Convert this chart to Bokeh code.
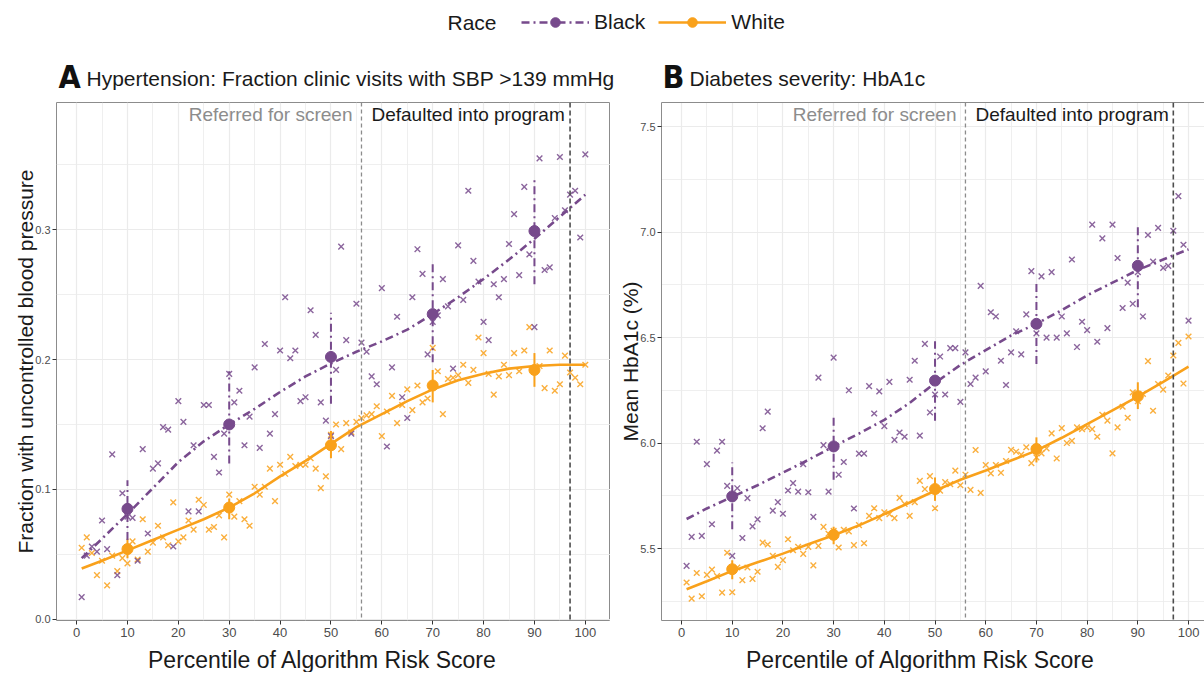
from bokeh.plotting import figure
from bokeh.models import (Range1d, FixedTicker, PrintfTickFormatter, Span, Label,
                          Legend, LegendItem, LinearAxis)
from bokeh.layouts import column, row
from bokeh.embed import file_html
from bokeh.resources import INLINE

FONT = "Liberation Sans"
NARROW = "DejaVu Sans Condensed"
PURPLE = "#774a8c"
ORANGE = "#f9a11b"
DASHDOT = "8 4 2 4"

# ---------------- data ----------------
pct = list(range(1, 101))

a_black = [0.017, 0.049, 0.056, 0.052, 0.076, 0.054, 0.127, 0.034, 0.097, 0.079,
           0.078, 0.045, 0.131, 0.066, 0.116, 0.120, 0.148, 0.146, 0.056, 0.168,
           0.152, 0.083, 0.134, 0.083, 0.165, 0.165, 0.125, 0.113, 0.143, 0.189,
           0.167, 0.176, 0.134, 0.156, 0.194, 0.132, 0.212, 0.143, 0.158, 0.207,
           0.248, 0.201, 0.207, 0.168, 0.171, 0.238, 0.219, 0.167, 0.153, 0.141,
           0.192, 0.287, 0.215, 0.143, 0.243, 0.213, 0.206, 0.187, 0.181, 0.255,
           0.133, 0.194, 0.233, 0.171, 0.155, 0.248, 0.285, 0.266, 0.204, 0.229,
           0.234, 0.262, 0.241, 0.193, 0.288, 0.246, 0.330, 0.276, 0.260, 0.229,
           0.215, 0.258, 0.248, 0.262, 0.289, 0.312, 0.265, 0.333, 0.281, 0.225,
           0.355, 0.269, 0.271, 0.309, 0.356, 0.315, 0.327, 0.330, 0.294, 0.358]

a_white = [0.055, 0.063, 0.051, 0.034, 0.045, 0.026, 0.049, 0.037, 0.047, 0.043,
           0.060, 0.046, 0.077, 0.052, 0.059, 0.072, 0.063, 0.057, 0.090, 0.060,
           0.063, 0.076, 0.069, 0.092, 0.088, 0.069, 0.071, 0.080, 0.063, 0.096,
           0.079, 0.091, 0.077, 0.072, 0.102, 0.096, 0.102, 0.116, 0.091, 0.119,
           0.112, 0.125, 0.118, 0.119, 0.119, 0.124, 0.116, 0.101, 0.110, 0.142,
           0.150, 0.131, 0.151, 0.144, 0.152, 0.155, 0.157, 0.158, 0.164, 0.141,
           0.160, 0.172, 0.151, 0.165, 0.177, 0.161, 0.180, 0.167, 0.170, 0.209,
           0.191, 0.158, 0.185, 0.186, 0.188, 0.196, 0.182, 0.192, 0.217, 0.205,
           0.189, 0.173, 0.187, 0.196, 0.188, 0.205, 0.191, 0.207, 0.225, 0.193,
           0.195, 0.178, 0.207, 0.176, 0.181, 0.203, 0.190, 0.186, 0.181, 0.196]

b_black = [5.418, 5.555, 6.006, 5.560, 5.900, 5.615, 5.964, 6.006, 5.797, 5.465,
           5.786, 5.550, 5.739, 5.605, 5.638, 6.070, 6.149, 5.680, 5.720, 5.665,
           5.775, 5.810, 5.770, 5.900, 5.767, 5.650, 6.310, 5.990, 5.770, 6.405,
           5.850, 5.910, 6.250, 5.690, 5.950, 5.950, 6.270, 6.140, 6.245, 6.080,
           6.290, 6.015, 6.050, 6.030, 6.300, 6.390, 6.035, 6.470, 6.145, 6.230,
           6.410, 6.230, 6.450, 6.450, 6.195, 6.430, 6.280, 6.310, 6.745, 6.340,
           6.620, 6.600, 6.390, 6.275, 6.430, 6.530, 6.420, 6.610, 6.815, 6.520,
           6.790, 6.500, 6.810, 6.500, 6.600, 6.520, 6.870, 6.455, 6.575, 6.535,
           7.035, 6.480, 6.970, 6.545, 7.035, 6.877, 6.640, 6.760, 6.660, 6.810,
           6.600, 6.986, 6.860, 7.020, 6.830, 6.840, 7.006, 7.170, 6.940, 6.580]

b_white = [5.339, 5.263, 5.384, 5.274, 5.375, 5.400, 5.369, 5.291, 5.480, 5.293,
           5.410, 5.350, 5.410, 5.356, 5.390, 5.528, 5.519, 5.465, 5.413, 5.445,
           5.544, 5.492, 5.508, 5.475, 5.508, 5.420, 5.513, 5.603, 5.570, 5.584,
           5.505, 5.589, 5.581, 5.516, 5.611, 5.525, 5.655, 5.691, 5.644, 5.672,
           5.663, 5.644, 5.740, 5.712, 5.655, 5.720, 5.821, 5.782, 5.843, 5.691,
           5.774, 5.815, 5.805, 5.869, 5.800, 5.850, 5.778, 5.967, 5.764, 5.896,
           5.856, 5.896, 5.859, 5.915, 5.968, 5.959, 5.945, 5.980, 5.905, 5.932,
           5.951, 5.975, 6.046, 5.927, 6.071, 6.000, 6.010, 6.074, 6.066, 6.074,
           6.066, 6.030, 6.134, 6.106, 5.951, 6.074, 6.172, 6.120, 6.240, 6.198,
           6.233, 6.388, 6.153, 6.280, 6.253, 6.320, 6.415, 6.475, 6.282, 6.505]

# smoothed trend lines
curve_x = [1, 5, 10, 15, 20, 25, 30, 35, 40, 45, 50, 55, 60, 65, 70, 75, 80, 85, 90, 95, 100]
a_black_fit = [0.047, 0.062, 0.081, 0.101, 0.121, 0.137, 0.150, 0.162, 0.175, 0.187, 0.197,
               0.206, 0.214, 0.223, 0.235, 0.248, 0.262, 0.277, 0.293, 0.310, 0.327]
a_white_fit = [0.039, 0.045, 0.053, 0.061, 0.069, 0.077, 0.086, 0.097, 0.110, 0.122, 0.135,
               0.148, 0.158, 0.168, 0.177, 0.184, 0.189, 0.193, 0.195, 0.196, 0.196]
b_black_fit = [5.64, 5.69, 5.745, 5.80, 5.86, 5.92, 5.984, 6.045, 6.11, 6.19, 6.285,
               6.37, 6.44, 6.51, 6.565, 6.63, 6.70, 6.76, 6.82, 6.87, 6.918]
b_white_fit = [5.307, 5.345, 5.394, 5.435, 5.476, 5.52, 5.563, 5.61, 5.663, 5.718, 5.774,
               5.826, 5.87, 5.917, 5.964, 6.025, 6.09, 6.155, 6.22, 6.29, 6.362]

# binned means with intervals
mean_x = [10, 30, 50, 70, 90]
a_black_mean = [0.085, 0.150, 0.202, 0.235, 0.299]
a_black_lo = [0.061, 0.120, 0.166, 0.198, 0.258]
a_black_hi = [0.107, 0.191, 0.236, 0.274, 0.339]
a_white_mean = [0.054, 0.086, 0.134, 0.180, 0.192]
a_white_lo = [0.047, 0.077, 0.124, 0.167, 0.179]
a_white_hi = [0.062, 0.093, 0.145, 0.192, 0.205]
b_black_mean = [5.747, 5.984, 6.296, 6.565, 6.840]
b_black_lo = [5.592, 5.826, 6.106, 6.375, 6.644]
b_black_hi = [5.908, 6.130, 6.483, 6.755, 7.032]
b_white_mean = [5.402, 5.565, 5.782, 5.972, 6.222]
b_white_lo = [5.354, 5.520, 5.726, 5.908, 6.161]
b_white_hi = [5.445, 5.603, 5.837, 6.027, 6.288]

x_ticks = [0, 10, 20, 30, 40, 50, 60, 70, 80, 90, 100]
x_minor = [5, 15, 25, 35, 45, 55, 65, 75, 85, 95]
a_y_ticks = [0.0, 0.1, 0.2, 0.3]
a_y_minor = [0.05, 0.15, 0.25, 0.35]
b_y_ticks = [5.5, 6.0, 6.5, 7.0, 7.5]
b_y_minor = [5.25, 5.75, 6.25, 6.75, 7.25]
thresholds = [56, 97]

titles = ["Hypertension: Fraction clinic visits with SBP >139 mmHg", "Diabetes severity: HbA1c"]
letters = ["A", "B"]
race_groups = ["Black", "White"]
x_title = "Percentile of Algorithm Risk Score"

PAGE_W = 1204
STRIP_H = 96
PANEL_H = 546
BOTTOM_H = 30


def make_panel(width, mbl, xr, yr, yt, ym, ylabel, black, white, black_fit, white_fit,
               bm, blo, bhi, wm, wlo, whi, outline):
    p = figure(width=width, height=PANEL_H, x_range=Range1d(*xr), y_range=Range1d(*yr),
               output_backend="svg", toolbar_location=None, title=None,
               min_border_left=mbl, min_border_right=0, min_border_top=6,
               min_border_bottom=22)
    p.background_fill_color = "white"
    p.border_fill_color = "white"

    p.xaxis.ticker = FixedTicker(ticks=x_ticks, minor_ticks=x_minor)
    p.yaxis.ticker = FixedTicker(ticks=yt, minor_ticks=ym)
    p.yaxis.formatter = PrintfTickFormatter(format="%.1f")
    for ax in (p.xaxis, p.yaxis):
        ax.minor_tick_line_color = None
        ax.major_tick_line_color = "#333333"
        ax.major_tick_out = 4
        ax.major_tick_in = 0
        ax.major_label_text_font = FONT
        ax.major_label_text_color = "#4d4d4d"
        ax.axis_label_text_font = FONT
        ax.axis_label_text_font_style = "normal"
        ax.axis_label_text_color = "#1a1a1a"
        ax.axis_line_color = None if outline else "#8c8c8c"
    p.xaxis.major_label_standoff = 3
    p.yaxis.major_label_standoff = 2
    p.yaxis.axis_label_standoff = -5
    p.xaxis.major_label_text_font_size = "13px"
    p.yaxis.major_label_text_font_size = "11px"
    p.yaxis.axis_label = ylabel
    p.yaxis.axis_label_text_font_size = "21px"

    for g in (p.xgrid, p.ygrid):
        g.grid_line_color = "#ebebeb"
        g.grid_line_width = 1.2
        g.minor_grid_line_color = "#ebebeb"
        g.minor_grid_line_width = 0.8

    if outline:
        p.outline_line_color = "#8c8c8c"
        p.outline_line_width = 1
    else:
        p.outline_line_color = None
        top_ax = LinearAxis(ticker=FixedTicker(ticks=[]), axis_line_color="#8c8c8c",
                            major_tick_line_color=None, minor_tick_line_color=None,
                            major_label_text_font_size="0px", major_tick_out=0,
                            minor_tick_out=0, major_label_standoff=0)
        p.add_layout(top_ax, "above")

    # raw points
    p.scatter(pct, white, marker="x", size=8, line_color=ORANGE, line_width=1.4, line_alpha=0.85)
    p.scatter(pct, black, marker="x", size=8, line_color=PURPLE, line_width=1.4, line_alpha=0.85)
    # smooth fits
    p.line(curve_x, white_fit, line_color=ORANGE, line_width=2.6)
    p.line(curve_x, black_fit, line_color=PURPLE, line_width=2.6, line_dash=DASHDOT)
    # intervals and means
    p.segment(x0=mean_x, y0=wlo, x1=mean_x, y1=whi, line_color=ORANGE, line_width=2)
    p.segment(x0=mean_x, y0=blo, x1=mean_x, y1=bhi, line_color=PURPLE, line_width=2,
              line_dash=DASHDOT)
    p.scatter(mean_x, wm, marker="circle", size=11, fill_color=ORANGE, line_color=ORANGE)
    p.scatter(mean_x, bm, marker="circle", size=11, fill_color=PURPLE, line_color=PURPLE)

    p.add_layout(Span(location=thresholds[0], dimension="height", line_color="#8c8c8c",
                      line_dash="4 3", line_width=1.3))
    p.add_layout(Span(location=thresholds[1], dimension="height", line_color="#4d4d4d",
                      line_dash="5 3", line_width=1.6))

    p.add_layout(Label(x=thresholds[0], y=yr[1], x_offset=-9, y_offset=-12,
                       text="Referred for screen", text_align="right", text_baseline="middle",
                       text_color="#8c8c8c", text_font=FONT, text_font_size="19px"))
    p.add_layout(Label(x=thresholds[0], y=yr[1], x_offset=10, y_offset=-12,
                       text="Defaulted into program", text_align="left", text_baseline="middle",
                       text_color="#1a1a1a", text_font=FONT, text_font_size="19px"))
    return p


pA = make_panel(610, 56, (-3.95, 104.95), (-0.001, 0.398), a_y_ticks, a_y_minor,
                "Fraction with uncontrolled blood pressure",
                a_black, a_white, a_black_fit, a_white_fit,
                a_black_mean, a_black_lo, a_black_hi, a_white_mean, a_white_lo, a_white_hi,
                True)
pB = make_panel(PAGE_W - 610, 51, (-3.95, 103.15), (5.159, 7.614), b_y_ticks, b_y_minor,
                "Mean HbA1c (%)",
                b_black, b_white, b_black_fit, b_white_fit,
                b_black_mean, b_black_lo, b_black_hi, b_white_mean, b_white_lo, b_white_hi,
                False)


def strip(height):
    s = figure(width=PAGE_W, height=height, x_range=Range1d(0, PAGE_W),
               y_range=Range1d(height, 0), output_backend="svg", toolbar_location=None,
               min_border=0, x_axis_location=None, y_axis_location=None)
    s.grid.visible = False
    s.outline_line_color = None
    s.background_fill_color = "white"
    s.border_fill_color = "white"
    return s


# ---------------- top strip: legend + panel titles ----------------
top = strip(STRIP_H)
off = [-100, -90]
lb1 = top.line(x=off, y=off, line_color=PURPLE, line_width=2.6, line_dash=DASHDOT)
lb2 = top.scatter(x=off, y=off, marker="circle", size=9, fill_color=PURPLE, line_color=PURPLE)
lw1 = top.line(x=off, y=off, line_color=ORANGE, line_width=2.6)
lw2 = top.scatter(x=off, y=off, marker="circle", size=9, fill_color=ORANGE, line_color=ORANGE)
legend = Legend(items=[LegendItem(label=race_groups[0], renderers=[lb1, lb2]),
                       LegendItem(label=race_groups[1], renderers=[lw1, lw2])],
                orientation="horizontal", location=(521, STRIP_H - 34), padding=0, margin=0,
                spacing=13, label_standoff=5, glyph_width=68, glyph_height=24,
                label_height=24, label_text_font=FONT, label_text_font_size="21px",
                label_text_color="#1a1a1a", border_line_color=None,
                background_fill_alpha=0)
top.add_layout(legend)
top.add_layout(Label(x=447, y=22, text="Race", text_align="left", text_baseline="middle",
                     text_font=FONT, text_font_size="21px", text_color="#1a1a1a"))
for lx, tx, letter, title in [(58, 86, letters[0], titles[0]), (662, 689, letters[1], titles[1])]:
    top.add_layout(Label(x=lx, y=76, text=letter, text_align="left",
                         text_baseline="middle", text_font=NARROW,
                         text_font_style="bold", text_font_size="32px", text_color="#111111"))
    top.add_layout(Label(x=tx, y=78, text=title, text_align="left",
                         text_baseline="middle", text_font=FONT,
                         text_font_size="21px", text_color="#1a1a1a"))

# ---------------- bottom strip: x-axis titles ----------------
bottom = strip(BOTTOM_H)
for cx in (322, 920):
    bottom.add_layout(Label(x=cx, y=17, text=x_title, text_align="center",
                            text_baseline="middle", text_font=FONT,
                            text_font_size="23px", text_color="#1a1a1a"))

layout = column(top, row(pA, pB), bottom)
open("out.html", "w").write(file_html(layout, INLINE))
